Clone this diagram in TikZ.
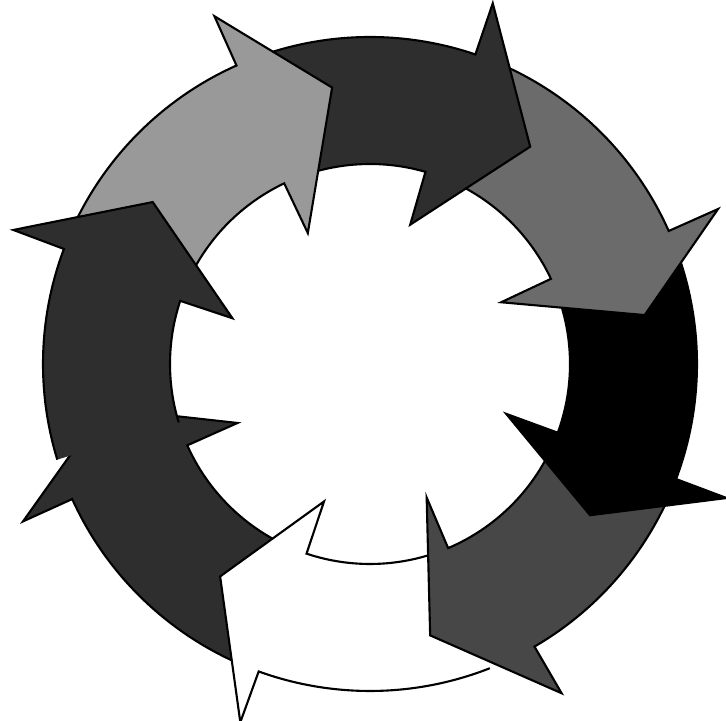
\documentclass[tikz,border=0pt]{standalone}
\usetikzlibrary{calc}

\newcommand{\ringout}{327}
\newcommand{\ringin}{200}
\newcommand{\barbout}{381}
\newcommand{\barbin}{145}
% #1 tail angle, #2 outer base angle, #3 inner base angle, #4 tip, #5 fill style
\newcommand{\ringarrow}[5]{%
  \fill[#5] (#1:\ringout) arc[start angle=#1, end angle=#2, radius=\ringout]
    -- (#2:\barbout) -- (#4) -- (#3:\barbin) -- (#3:\ringin)
    arc[start angle=#3, end angle=#1, radius=\ringin] -- cycle;
  \draw[rim] (#1:\ringout) arc[start angle=#1, end angle=#2, radius=\ringout]
    -- (#2:\barbout) -- (#4) -- (#3:\barbin) -- (#3:\ringin)
    arc[start angle=#3, end angle=#1, radius=\ringin];
}

\begin{document}
\begin{tikzpicture}[
    scale=0.02,
    rim/.style={draw=black, line width=1.2pt, line join=miter},
    pale/.style={fill=black!40},
    mid/.style={fill=black!58},
    darker/.style={fill=black!72},
    dark/.style={fill=black!82},
    ink/.style={fill=black},
    blank/.style={fill=white}
]
\useasboundingbox (-370,-357) rectangle (356,364);

\ringarrow{246}{204.4}{204}{189.4:270}{dark}
\ringarrow{-68.5}{-109.9}{-108.5}{-125.2:260}{blank}
\ringarrow{-24}{-59.8}{-67}{-77.5:278}{darker}
\ringarrow{20}{-20.6}{-20.1}{-34.5:267}{ink}
\ringarrow{67}{24}{25.2}{10.1:279}{mid}
\ringarrow{110}{71.2}{73.9}{53.6:270}{dark}
\ringarrow{155}{114.1}{115.4}{97.8:279}{pale}
\ringarrow{197}{159.4}{161.6}{143.3:271}{dark}

\end{tikzpicture}
\end{document}
